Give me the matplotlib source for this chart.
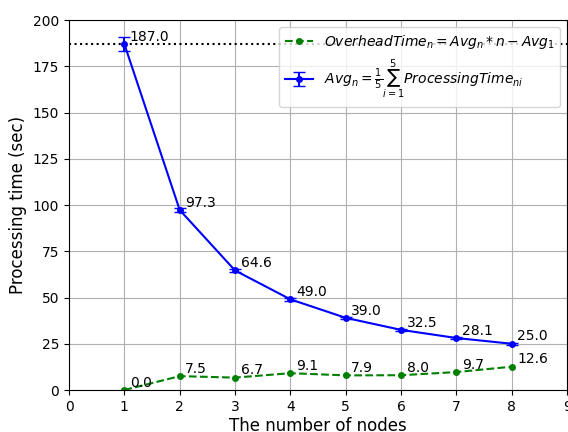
import matplotlib
matplotlib.use("Agg")
import matplotlib.pyplot as plt

nodes = [1, 2, 3, 4, 5, 6, 7, 8]
avg = [187.0, 97.3, 64.6, 49.0, 39.0, 32.5, 28.1, 25.0]
err = [4.0, 1.0, 1.0, 0.8, 0.6, 0.6, 0.5, 0.5]
overhead = [0.0, 7.5, 6.7, 9.1, 7.9, 8.0, 9.7, 12.6]

fig = plt.figure(figsize=(5.68, 4.32), dpi=100)
ax = fig.add_axes([0.1215, 0.0972, 0.877, 0.8565])

ax.axhline(avg[0], color="black", linestyle=":", linewidth=1.5)
ax.plot(nodes, overhead, "g.--", markersize=8, linewidth=1.5,
        label=r"$OverheadTime_n = Avg_n * n - Avg_1$")
ax.errorbar(nodes, avg, yerr=err, fmt="b.-", markersize=8, linewidth=1.5,
            capsize=4, label=r"$Avg_n = \frac{1}{5}\sum_{i=1}^{5} ProcessingTime_{ni}$")

for x, y in zip(nodes, avg):
    ax.text(x + 0.1, y + 1.8, f"{y:.1f}", fontsize=10)
for x, y in zip(nodes, overhead):
    ax.text(x + 0.1, y + 1.8, f"{y:.1f}", fontsize=10)

ax.set_xlim(0, 9)
ax.set_ylim(0, 200)
ax.set_xticks(range(0, 10))
ax.set_yticks(range(0, 201, 25))
ax.grid(True, color="#b0b0b0")
ax.set_xlabel("The number of nodes", fontsize=12, labelpad=2)
ax.set_ylabel("Processing time (sec)", fontsize=12)
ax.legend(loc="upper right", fontsize=10)

fig.savefig("out.png", dpi=100)
